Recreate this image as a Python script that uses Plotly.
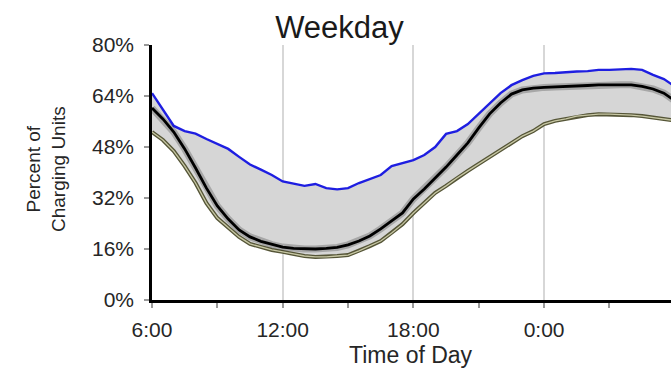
import plotly.graph_objects as go

# Hours since midnight of day 1 (6:00 .. 6:00 next day)
hours = [6.0, 6.5, 7.0, 7.5, 8.0, 8.5, 9.0, 9.5, 10.0, 10.5, 11.0, 11.5,
         12.0, 12.5, 13.0, 13.5, 14.0, 14.5, 15.0, 15.5, 16.0, 16.5, 17.0, 17.5,
         18.0, 18.5, 19.0, 19.5, 20.0, 20.5, 21.0, 21.5, 22.0, 22.5, 23.0, 23.5,
         24.0, 24.5, 25.0, 25.5, 26.0, 26.5, 27.0, 27.5, 28.0, 28.5, 29.0, 29.5, 30.0]

# Maximum (blue), mean (black), minimum (olive) percent of charging units
max_pct = [64.9, 59.9, 54.6, 53.0, 52.2, 50.5, 48.9, 47.4, 44.9, 42.5, 40.9, 39.2,
           37.2, 36.4, 35.8, 36.4, 35.1, 34.7, 35.1, 36.7, 38.0, 39.2, 42.0, 43.0,
           43.9, 45.5, 48.0, 52.1, 53.0, 55.2, 58.4, 61.8, 64.9, 67.4, 69.0, 70.3,
           71.1, 71.2, 71.5, 71.7, 71.8, 72.2, 72.2, 72.3, 72.5, 72.2, 70.6, 69.3, 67.0]
mean_pct = [60.2, 56.8, 52.7, 47.4, 41.4, 35.1, 29.5, 25.4, 22.0, 19.8, 18.4, 17.4,
            16.6, 16.2, 16.0, 16.0, 16.2, 16.5, 17.3, 18.5, 20.1, 22.3, 24.8, 27.3,
            31.7, 34.8, 38.3, 41.7, 45.5, 49.3, 54.0, 58.4, 61.8, 64.6, 65.9, 66.5,
            66.7, 66.8, 67.0, 67.1, 67.3, 67.5, 67.5, 67.5, 67.5, 67.0, 66.2, 64.9, 62.5]
min_pct = [52.7, 50.2, 46.7, 42.0, 36.7, 30.4, 25.7, 22.6, 19.8, 17.6, 16.6, 15.7,
           15.1, 14.4, 13.8, 13.5, 13.5, 13.8, 14.1, 15.4, 16.9, 18.5, 21.0, 23.8,
           27.3, 30.4, 33.6, 35.8, 38.3, 40.5, 42.7, 44.9, 47.1, 49.3, 51.4, 53.0,
           55.2, 56.2, 56.8, 57.7, 58.0, 58.3, 58.3, 58.2, 58.0, 57.7, 57.2, 56.8, 56.3]

x_tickvals = [6, 12, 18, 24]
x_ticktext = ["6:00", "12:00", "18:00", "0:00"]
y_tickvals = [0, 16, 32, 48, 64, 80]
y_ticktext = ["0%", "16%", "32%", "48%", "64%", "80%"]

FONT = "Liberation Sans, Arial, sans-serif"
TXT = "#262626"

fig = go.Figure()
# lower bound (olive) - base of fill
fig.add_trace(go.Scatter(x=hours, y=min_pct, mode="lines",
                         line=dict(color="rgb(85,85,55)", width=4),
                         showlegend=False, hoverinfo="skip"))
# upper bound (blue) with grey fill down to the lower bound
fig.add_trace(go.Scatter(x=hours, y=max_pct, mode="lines", fill="tonexty",
                         fillcolor="rgb(214,214,214)",
                         line=dict(color="rgb(30,30,225)", width=2.4),
                         showlegend=False, hoverinfo="skip"))
# olive inner highlight
fig.add_trace(go.Scatter(x=hours, y=min_pct, mode="lines",
                         line=dict(color="rgb(200,200,165)", width=1.3),
                         showlegend=False, hoverinfo="skip"))
# mean halo + core
fig.add_trace(go.Scatter(x=hours, y=mean_pct, mode="lines",
                         line=dict(color="rgba(0,0,0,0.22)", width=7),
                         showlegend=False, hoverinfo="skip"))
fig.add_trace(go.Scatter(x=hours, y=mean_pct, mode="lines",
                         line=dict(color="black", width=2.8),
                         showlegend=False, hoverinfo="skip"))

W, H = 671, 375
PLOT_W = 671 - 152
fig.update_layout(
    width=W, height=H,
    margin=dict(l=152, r=0, t=45, b=75, autoexpand=False),
    paper_bgcolor="white", plot_bgcolor="white",
    font=dict(family=FONT, color=TXT),
    title=dict(text="Weekday", font=dict(size=31, color="#1a1a1a"),
               x=339.5 / W, xref="container", xanchor="center",
               y=1 - 27 / H, yref="container", yanchor="middle"),
    xaxis=dict(range=[6, 6 + PLOT_W / 130.7 * 6], automargin=False,
               tickvals=x_tickvals, ticktext=x_ticktext,
               tickfont=dict(size=21, color=TXT),
               ticks="outside", ticklen=5, tickwidth=1.5, tickcolor="#999",
               ticklabelstandoff=4,
               minor=dict(tick0=6, dtick=3, ticks="outside", ticklen=5,
                          tickwidth=1.5, tickcolor="#999", showgrid=False),
               showgrid=True, gridcolor="rgb(215,215,215)", gridwidth=1.6,
               showline=True, linecolor="black", linewidth=2.5,
               zeroline=False),
    yaxis=dict(range=[0, 80], automargin=False,
               tickvals=y_tickvals, ticktext=y_ticktext,
               tickfont=dict(size=21, color=TXT),
               ticks="outside", ticklen=5, tickwidth=1.5, tickcolor="#999",
               ticklabelstandoff=6,
               showgrid=False, zeroline=False,
               showline=True, linecolor="black", linewidth=2.5),
    annotations=[
        dict(text="Time of Day", xref="paper", yref="paper",
             x=(411 - 152) / PLOT_W, y=(300 - 355) / 255,
             xanchor="center", yanchor="middle", showarrow=False,
             font=dict(size=23, color=TXT)),
        dict(text="Percent of<br>Charging Units", xref="paper", yref="paper",
             x=(46 - 152) / PLOT_W, y=(300 - 169) / 255, textangle=-90,
             xanchor="center", yanchor="middle", showarrow=False,
             font=dict(size=19, color=TXT)),
    ],
)

fig.write_html("out.html",
               config={"displayModeBar": False},
               post_script="document.body.style.margin='0';"
                           "document.body.style.overflow='hidden';")
